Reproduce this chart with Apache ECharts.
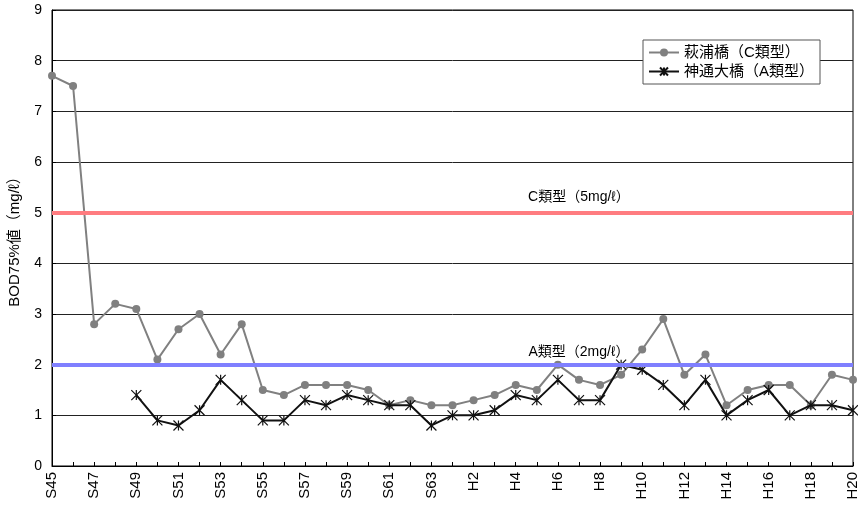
<!DOCTYPE html>
<html>
<head>
<meta charset="utf-8">
<script src="https://cdn.jsdelivr.net/npm/echarts@6/dist/echarts.min.js"></script>
<style>
html,body{margin:0;padding:0;background:#fff;}
#chart{width:858px;height:506px;}
</style>
</head>
<body>
<div id="chart"></div>
<script>
const categories = ['S45','S46','S47','S48','S49','S50','S51','S52','S53','S54','S55','S56','S57','S58','S59','S60','S61','S62','S63',
  'H1','H2','H3','H4','H5','H6','H7','H8','H9','H10','H11','H12','H13','H14','H15','H16','H17','H18','H19','H20'];
const hagiuraC = [7.7,7.5,2.8,3.2,3.1,2.1,2.7,3.0,2.2,2.8,1.5,1.4,1.6,1.6,1.6,1.5,1.2,1.3,1.2,
  1.2,1.3,1.4,1.6,1.5,2.0,1.7,1.6,1.8,2.3,2.9,1.8,2.2,1.2,1.5,1.6,1.6,1.2,1.8,1.7];
const jinzuA = [null,null,null,null,1.4,0.9,0.8,1.1,1.7,1.3,0.9,0.9,1.3,1.2,1.4,1.3,1.2,1.2,0.8,
  1.0,1.0,1.1,1.4,1.3,1.7,1.3,1.3,2.0,1.9,1.6,1.2,1.7,1.0,1.3,1.5,1.0,1.2,1.2,1.1];
const seriesNames = ['萩浦橋（C類型）','神通大橋（A類型）'];
const refC = 5, refA = 2;
const refCLabel = 'C類型（5mg/ℓ）';
const refALabel = 'A類型（2mg/ℓ）';
const refLabelCategory = 'H7';
const yTicks = {min:0, max:9, interval:1};
const yName = 'BOD75%値（mg/ℓ）';

const FONT = '"Liberation Sans","Noto Sans CJK JP",sans-serif';
const chart = echarts.init(document.getElementById('chart'), null, {renderer:'canvas'});
const asterisk = 'path://M0,0L10,10M10,0L0,10M5,0L5,10';

chart.setOption({
  animation:false,
  backgroundColor:'#fff',
  textStyle:{fontFamily:FONT},
  grid:{left:52, right:5, top:10, bottom:40, show:true, borderColor:'#000', borderWidth:1, backgroundColor:'transparent', containLabel:false, outerBoundsMode:'none'},
  legend:{
    data:seriesNames,
    orient:'vertical',
    left:643, top:40,
    padding:[5,6,5,5],
    itemGap:4,
    itemWidth:30, itemHeight:10,
    backgroundColor:'#fff',
    borderColor:'#555', borderWidth:1,
    textStyle:{fontSize:15, color:'#000', fontFamily:FONT}
  },
  xAxis:{
    type:'category',
    data:categories,
    boundaryGap:false,
    axisLine:{lineStyle:{color:'#000', width:1}},
    axisTick:{show:true, inside:true, length:4, interval:0, lineStyle:{color:'#000'}},
    axisLabel:{rotate:90, interval:1, fontSize:15, color:'#000', margin:6, fontFamily:FONT},
    splitLine:{show:false}
  },
  yAxis:{
    type:'value',
    min:yTicks.min, max:yTicks.max, interval:yTicks.interval,
    name:yName,
    nameLocation:'middle',
    nameGap:30,
    nameTextStyle:{fontSize:15, color:'#000', fontFamily:FONT},
    axisLine:{show:true, lineStyle:{color:'#000', width:1}},
    axisTick:{show:true, inside:true, length:4, lineStyle:{color:'#000'}},
    axisLabel:{fontSize:14, color:'#000', margin:10, fontFamily:FONT},
    splitLine:{show:true, lineStyle:{color:'#222', width:1}}
  },
  series:[
    {
      name:seriesNames[0], type:'line', data:hagiuraC,
      symbol:'circle', symbolSize:8, showAllSymbol:true,
      lineStyle:{color:'#808080', width:2},
      itemStyle:{color:'#808080'},
      emphasis:{disabled:true}, z:3
    },
    {
      name:seriesNames[1], type:'line', data:jinzuA,
      symbol:asterisk, symbolSize:10, showAllSymbol:true,
      lineStyle:{color:'#111', width:2},
      itemStyle:{color:'#111', borderColor:'#111', borderWidth:1.2},
      emphasis:{disabled:true}, z:4
    },
    {
      name:'ref', type:'line', data:[],
      z:2,
      markLine:{
        silent:true, symbol:'none', animation:false,
        label:{show:false},
        data:[
          {yAxis:refC, lineStyle:{color:'#FF7C80', width:4, type:'solid'}},
          {yAxis:refA, lineStyle:{color:'#7F7FFF', width:4, type:'solid'}}
        ]
      }
    }
  ]
});

const pC = chart.convertToPixel({xAxisIndex:0, yAxisIndex:0}, [refLabelCategory, refC]);
const pA = chart.convertToPixel({xAxisIndex:0, yAxisIndex:0}, [refLabelCategory, refA]);
chart.setOption({
  graphic:[
    {type:'text', x:pC[0], y:pC[1]-9, z:10, style:{text:refCLabel, fill:'#000', font:'14px '+FONT, textAlign:'center', textVerticalAlign:'bottom'}},
    {type:'text', x:pA[0], y:pA[1]-6, z:10, style:{text:refALabel, fill:'#000', font:'14px '+FONT, textAlign:'center', textVerticalAlign:'bottom'}}
  ]
});
</script>
</body>
</html>
